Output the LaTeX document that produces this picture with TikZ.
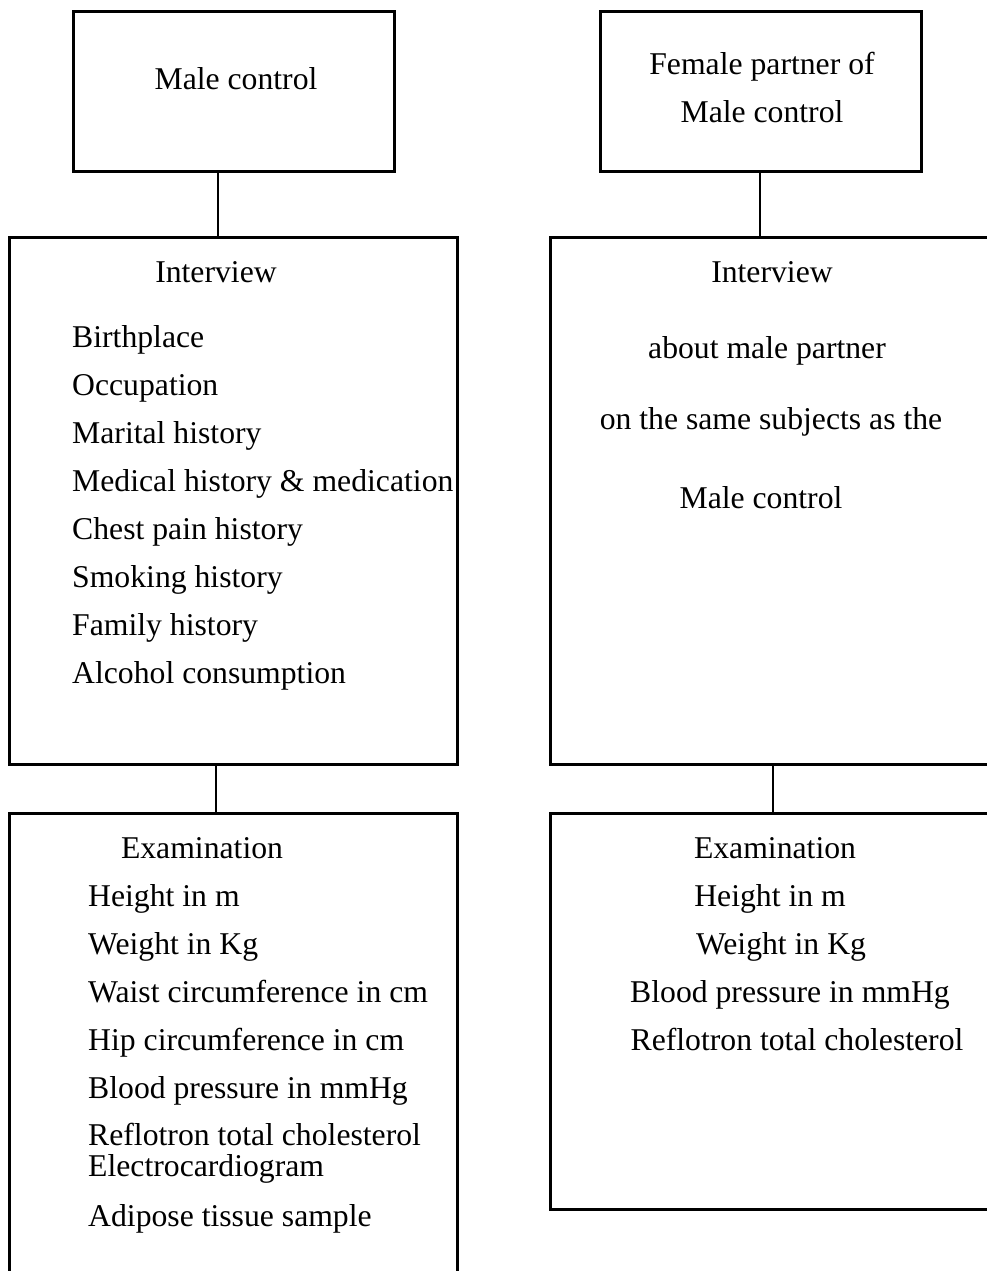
\documentclass[tikz,border=0pt]{standalone}
\usepackage{fontspec}
\setmainfont{Liberation Serif}
\begin{document}
\begin{tikzpicture}[x=1pt,y=-1pt,
  box/.style={draw=black,line width=2.8pt,rectangle,inner sep=0pt},
  lbl/.style={font=\fontsize{31.7}{34}\selectfont,inner sep=0pt,anchor=base},
  item/.style={font=\fontsize{31.7}{34}\selectfont,inner sep=0pt,anchor=base west},
  conn/.style={line width=2.8pt}]
\useasboundingbox (0,0) rectangle (986,1271);
% boxes
\node[box,minimum width=321pt,minimum height=160pt,anchor=north west] (mc) at (72,10) {};
\node[box,minimum width=321pt,minimum height=160pt,anchor=north west] (fp) at (599,10) {};
\node[box,minimum width=448pt,minimum height=527pt,anchor=north west] (il) at (8,236) {};
\node[box,minimum width=460pt,minimum height=527pt,anchor=north west] (ir) at (549,236) {};
\node[box,minimum width=448pt,minimum height=480pt,anchor=north west] (el) at (8,812) {};
\node[box,minimum width=460pt,minimum height=396pt,anchor=north west] (er) at (549,812) {};
% connectors
\draw[conn] (mc.south -| 218,0) -- (il.north -| 218,0);
\draw[conn] (fp.south -| 760,0) -- (ir.north -| 760,0);
\draw[conn] (il.south -| 216,0) -- (el.north -| 216,0);
\draw[conn] (ir.south -| 773,0) -- (er.north -| 773,0);
% texts
\node[lbl] (t1) at (236,90) {Male control};
\node[lbl] (t2) at (762,75) {Female partner of};
\node[lbl] (t3) at (762,123) {Male control};
\node[lbl] (t4) at (216,282) {Interview};
\node[item] (a1) at (72,347) {Birthplace};
\node[item] (a2) at (72,395) {Occupation};
\node[item] (a3) at (72,443) {Marital history};
\node[item] (a4) at (72,491) {Medical history \& medication};
\node[item] (a5) at (72,539) {Chest pain history};
\node[item] (a6) at (72,587) {Smoking history};
\node[item] (a7) at (72,635) {Family history};
\node[item] (a8) at (72,683) {Alcohol consumption};
\node[lbl] (t5) at (772,282) {Interview};
\node[lbl] (t6) at (767,358) {about male partner};
\node[lbl] (t7) at (771,429) {on the same subjects as the};
\node[lbl] (t8) at (761,508) {Male control};
\node[lbl] (t9) at (202,858) {Examination};
\node[item] (b1) at (88,906) {Height in m};
\node[item] (b2) at (88,954) {Weight in Kg};
\node[item] (b3) at (88,1002) {Waist circumference in cm};
\node[item] (b4) at (88,1050) {Hip circumference in cm};
\node[item] (b5) at (88,1098) {Blood pressure in mmHg};
\node[item] (b6) at (88,1145) {Reflotron total cholesterol};
\node[item] (b7) at (88,1176) {Electrocardiogram};
\node[item] (b8) at (88,1226) {Adipose tissue sample};
\node[lbl] (c1) at (775,858) {Examination};
\node[lbl] (c2) at (770,906) {Height in m};
\node[lbl] (c3) at (781,954) {Weight in Kg};
\node[lbl] (c4) at (790,1002) {Blood pressure in mmHg};
\node[lbl] (c5) at (797,1050) {Reflotron total cholesterol};
\end{tikzpicture}
\end{document}
